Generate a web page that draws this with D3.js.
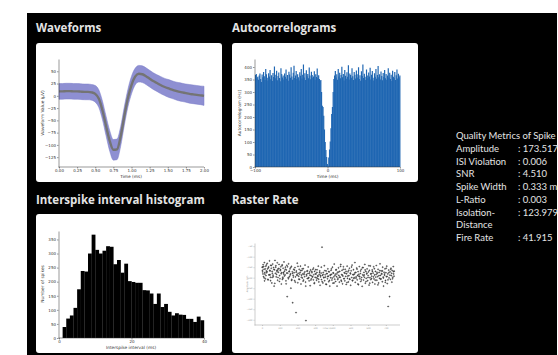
<!DOCTYPE html>
<html>
<head>
<meta charset="utf-8">
<script src="https://cdnjs.cloudflare.com/ajax/libs/d3/7.8.5/d3.min.js"></script>
<style>
  html, body { margin: 0; padding: 0; background: #fff; }
  svg { display: block; }
  .title { font-family: "Open Sans", sans-serif; font-weight: 700; font-size: 11.5px; fill: #e4e4e4; }
  .metric { font-family: Lato, sans-serif; font-size: 9.5px; fill: #e4e4e4; }
  .axis text { font-family: "DejaVu Sans", sans-serif; fill: #333; }
  .axis path, .axis line { stroke: #333; stroke-width: 0.5; }
  .lbl { font-family: "DejaVu Sans", sans-serif; fill: #333; }
</style>
</head>
<body>
<script>
// ---- data ----
const waveTime = [0, 0.05, 0.1, 0.15, 0.2, 0.25, 0.3, 0.35, 0.4, 0.45, 0.5, 0.55, 0.6, 0.65, 0.7, 0.75, 0.8, 0.85, 0.9, 0.95,
  1.0, 1.05, 1.1, 1.15, 1.2, 1.25, 1.3, 1.35, 1.4, 1.45, 1.5, 1.55, 1.6, 1.65, 1.7, 1.75, 1.8, 1.85, 1.9, 1.95, 2.0];
const waveMean = [9, 9, 9.5, 9.5, 9, 9, 8.5, 8, 8, 7, 4, -6, -30, -62, -92, -110, -109, -83, -42, -5,
  22, 39, 45, 44, 40, 35, 30, 26, 22, 18.5, 15.5, 13, 10.5, 8.5, 7, 5.5, 4, 3, 2, 1, 0];
const waveStd = [16, 16, 16, 16, 16, 16, 16, 16, 16, 16, 17, 18, 19, 20, 21, 21, 21, 20, 19, 18,
  18, 17, 17, 17, 17, 17, 17, 17, 17.5, 17.5, 18, 18, 18, 18.5, 18.5, 18.5, 19, 19, 19, 19, 19.5];
const waveXTicks = [0, 0.25, 0.5, 0.75, 1, 1.25, 1.5, 1.75, 2];
const waveYTicks = [50, 25, 0, -25, -50, -75, -100, -125];

// autocorrelogram: 1 ms bins from -100 to 100
const acgStart = -100;
const acgCounts = [
  368, 372, 355, 361, 349, 366, 374, 352, 340, 370, 359, 380, 363, 348, 392, 371, 357, 346, 375, 362,
  388, 351, 367, 344, 376, 360, 402, 355, 369, 385, 347, 364, 378, 356, 343, 395, 372, 358, 366, 350,
  374, 361, 390, 353, 368, 345, 381, 370, 357, 399, 362, 349, 377, 405, 356, 366, 384, 352, 371, 359,
  346, 379, 365, 392, 354, 369, 410, 358, 375, 348, 387, 363, 372, 355, 398, 366, 351, 381, 368, 357,
  362, 383, 349, 371, 360, 394, 356, 367, 352, 345, 348, 300, 245, 240, 205, 150, 100, 68, 40, 12,
  5, 38, 70, 102, 155, 212, 240, 300, 352, 366, 384, 358, 371, 349, 392, 362, 377, 355, 368, 401,
  359, 372, 346, 388, 365, 353, 379, 361, 407, 350, 374, 368, 357, 395, 363, 348, 380, 369, 354, 386,
  371, 358, 399, 352, 367, 345, 383, 364, 410, 356, 373, 361, 348, 390, 366, 355, 378, 362, 397, 350,
  369, 384, 357, 346, 375, 361, 392, 353, 368, 404, 359, 371, 350, 382, 364, 347, 376, 360, 388, 355,
  372, 349, 366, 395, 358, 377, 352, 369, 344, 385, 361, 356, 380, 348, 367, 390, 354, 373, 359, 366];
const acgXTicks = [-100, 0, 100];
const acgYTicks = [0, 50, 100, 150, 200, 250, 300, 350, 400];

// ISI histogram: 1 ms bins from 1 to 40
const isiStart = 1;
const isiCounts = [39, 69, 80, 107, 173, 238, 236, 300, 367, 313, 300, 310, 326, 324, 262, 277, 232, 264, 202, 199,
  196, 196, 170, 169, 158, 121, 158, 110, 121, 93, 80, 88, 83, 82, 68, 68, 57, 76, 63];
const isiXTicks = [0, 20, 40];
const isiYTicks = [0, 50, 100, 150, 200, 250, 300, 350];

// raster: spike time (s) and amplitude (uV)
const rasterTime = [
  1, 3, 6, 8, 11, 13, 16, 19, 21, 24, 26, 29, 31, 34, 37, 39, 42, 44, 47, 49,
  52, 55, 57, 60, 62, 65, 68, 70, 73, 75, 78, 80, 83, 86, 88, 91, 93, 96, 99, 101,
  104, 106, 109, 111, 114, 117, 119, 122, 124, 127, 130, 132, 135, 137, 140, 142, 145, 148, 150, 153,
  155, 158, 161, 163, 166, 168, 171, 173, 176, 179, 181, 184, 186, 189, 192, 194, 197, 199, 202, 204,
  207, 210, 212, 215, 217, 220, 223, 225, 228, 230, 233, 235, 238, 241, 243, 246, 248, 251, 254, 256,
  259, 261, 264, 266, 269, 272, 274, 277, 279, 282, 284, 287, 290, 292, 295, 297, 300, 303, 305, 308,
  310, 313, 315, 318, 321, 323, 326, 328, 331, 334, 336, 339, 341, 344, 346, 349, 352, 354, 357, 359,
  362, 364, 367, 370, 372, 375, 377, 380, 383, 385, 388, 390, 393, 395, 398, 401, 403, 406, 408, 411,
  414, 416, 419, 421, 424, 426, 429, 432, 434, 437, 439, 442, 445, 447, 450, 452, 455, 457, 460, 463,
  465, 468, 470, 473, 476, 478, 481, 483, 486, 488, 491, 494, 496, 499, 501, 504, 507, 509, 512, 514,
  517, 519, 522, 525, 527, 530, 532, 535, 538, 540, 543, 545, 548, 550, 553, 556, 558, 561, 563, 566,
  569, 571, 574, 576, 579, 581, 584, 587, 589, 592, 594, 597, 600, 602, 605, 607, 610, 612, 615, 618,
  620, 623, 625, 628, 631, 633, 636, 638, 641, 643, 646, 649, 651, 654, 656, 659, 662, 664, 667, 669,
  672, 674, 677, 680, 682, 685, 687, 690, 693, 695, 698, 700, 703, 705, 708, 711, 713, 716, 718, 721,
  724, 726, 729, 731, 734, 736, 739, 742, 744, 747,
  2, 5, 9, 12, 15, 18, 22, 25, 28, 33, 36, 41, 45, 48, 53, 58, 63, 67, 72, 77,
  82, 85, 90, 95, 98, 103, 108, 113, 118, 121, 126, 131, 136, 139, 144, 149, 154, 159, 162, 167,
  172, 177, 183, 188, 193, 198, 203, 208, 213, 218, 222, 227, 232, 237, 242, 247, 252, 257, 262, 267,
  271, 276, 281, 286, 291, 296, 301, 306, 311, 316, 320, 325, 330, 335, 340, 345, 350, 355, 361, 366,
  371, 376, 381, 387, 392, 397, 402, 407, 412, 418, 423, 428, 433, 438, 444, 449, 454, 459, 464, 469,
  475, 480, 485, 490, 495, 500, 506, 511, 516, 521, 526, 531, 537, 542, 547, 552, 557, 562, 568, 573,
  578, 583, 588, 593, 599, 604, 609, 614, 619, 624, 630, 635, 640, 645, 650, 655, 661, 666, 671, 676,
  681, 686, 692, 697, 702, 707, 712, 717, 723, 728, 733, 738, 743, 746, 3, 14, 46, 57, 88, 115];
const rasterAmp = [
  -150, -172, -138, -195, -160, -128, -183, -205, -145, -168, -176, -132, -158, -210, -149, -187, -120, -165, -198, -141,
  -155, -225, -170, -135, -188, -152, -240, -162, -118, -179, -143, -196, -166, -129, -212, -158, -174, -137, -190, -205,
  -161, -148, -230, -176, -139, -198, -155, -182, -125, -169, -187, -150, -215, -163, -141, -290, -178, -200, -134, -171,
  -195, -158, -182, -250, -146, -208, -172, -319, -189, -160, -176, -214, -152, -196, -366, -168, -185, -131, -224, -179,
  -193, -160, -208, -175, -145, -230, -188, -166, -201, -182, -157, -211, -178, -195, -140, -221, -404, -185, -169, -204,
  -180, -149, -199, -215, -172, -238, -163, -190, -205, -176, -195, -160, -210, -186, -228, -170, -198, -162, -182, -212,
  -175, -203, -191, -145, -220, -184, -168, -236, -196, -178, -209, -55, -189, -225, -175, -200, -143, -214, -186, -197,
  -168, -232, -181, -205, -158, -193, -219, -172, -240, -188, -200, -165, -184, -211, -150, -226, -178, -196, -135, -207,
  -183, -218, -161, -195, -240, -174, -202, -153, -189, -221, -170, -198, -137, -212, -185, -165, -229, -192, -148, -205,
  -176, -215, -160, -194, -232, -181, -145, -203, -172, -220, -190, -155, -208, -178, -236, -167, -199, -140, -213, -185,
  -162, -204, -183, -128, -222, -175, -196, -154, -210, -189, -171, -233, -193, -147, -205, -180, -218, -160, -199, -241,
  -186, -152, -211, -175, -198, -137, -226, -170, -203, -182, -158, -214, -190, -172, -235, -165, -200, -144, -209, -181,
  -193, -163, -222, -178, -148, -206, -187, -230, -170, -197, -142, -212, -180, -195, -160, -225, -175, -203, -134, -189,
  -205, -168, -183, -219, -150, -197, -240, -174, -188, -158, -213, -176, -195, -145, -228, -182, -337, -164, -201, -290,
  -172, -208, -155, -190, -221, -166, -198, -147, -182, -169,
  -165, -182, -147, -201, -176, -158, -190, -139, -171, -208, -153, -186, -168, -214, -142, -179, -195, -161, -227, -150,
  -184, -172, -199, -156, -218, -166, -181, -143, -203, -175, -192, -160, -229, -178, -148, -205, -169, -187, -152, -213,
  -180, -197, -163, -221, -174, -189, -146, -207, -183, -166, -198, -158, -216, -185, -172, -240, -191, -167, -203, -179,
  -188, -211, -170, -196, -154, -224, -182, -200, -162, -193, -207, -175, -189, -150, -219, -184, -198, -166, -231, -180,
  -194, -171, -213, -186, -158, -202, -177, -225, -190, -164, -182, -209, -173, -197, -146, -217, -188, -160, -204, -179,
  -170, -223, -192, -165, -206, -181, -149, -214, -186, -199, -176, -202, -159, -230, -184, -195, -168, -210, -152, -191,
  -187, -163, -218, -178, -199, -143, -226, -182, -204, -170, -196, -157, -212, -185, -174, -234, -190, -166, -207, -180,
  -168, -201, -183, -222, -155, -194, -210, -176, -188, -160, -179, -205, -171, -193, -150, -215, -186, -199, -164, -208];
const rasterXTicks = [0, 100, 200, 300, 400, 500, 600, 700];
const rasterYTicks = [-50, -100, -150, -200, -250, -300, -350, -400];

const metricNames = ["Amplitude", "ISI Violation", "SNR", "Spike Width", "L-Ratio", "Isolation-", "Distance", "Fire Rate"];
const metricValues = [": 173.517 \u00b5V", ": 0.006", ": 4.510", ": 0.333 ms", ": 0.003", ": 123.979", "", ": 41.915"];

// ---- page ----
const svg = d3.select("body").append("svg").attr("width", 558).attr("height", 355);
svg.append("rect").attr("x", 27).attr("y", 13).attr("width", 530).attr("height", 342).attr("fill", "#000");

const cards = [
  { title: "Waveforms", x: 36, y: 43, ty: 32 },
  { title: "Autocorrelograms", x: 232, y: 43, ty: 32 },
  { title: "Interspike interval histogram", x: 36, y: 214, ty: 204 },
  { title: "Raster Rate", x: 232, y: 214, ty: 204 }
];
cards.forEach(c => {
  svg.append("text").attr("class", "title").attr("x", c.x).attr("y", c.ty).text(c.title);
  svg.append("rect").attr("x", c.x).attr("y", c.y).attr("width", 186).attr("height", 139)
    .attr("rx", 3).attr("fill", "#fff");
});

const fmt = d => String(d).replace("-", "\u2212");

function axes(x, y, xt, yt, xf, yf, fs, tl, color) {
  const gx = svg.append("g").attr("class", "axis")
    .attr("transform", `translate(0,${y.range()[0]})`)
    .call(d3.axisBottom(x).tickValues(xt).tickFormat(xf).tickSize(tl).tickSizeOuter(0).tickPadding(1));
  const gy = svg.append("g").attr("class", "axis")
    .attr("transform", `translate(${x.range()[0] - 0.5},0)`)
    .call(d3.axisLeft(y).tickValues(yt).tickFormat(yf).tickSize(tl).tickSizeOuter(0).tickPadding(1));
  gx.select(".domain").attr("d", `M${x.range()[0] - 0.5},0H${x.range()[1]}`);
  [gx, gy].forEach(g => {
    g.selectAll("text").attr("font-size", fs);
    if (color) {
      g.selectAll("text").style("fill", color);
      g.selectAll("path, line").style("stroke", color);
    }
  });
}

function label(x, y, text, fs, rot, color) {
  svg.append("text").attr("class", "lbl").attr("font-size", fs).attr("text-anchor", "middle")
    .attr("transform", `translate(${x},${y})${rot ? " rotate(-90)" : ""}`)
    .style("fill", color || null).text(text);
}

// Waveforms
{
  const x = d3.scaleLinear().domain([0, 2]).range([59, 204]);
  const y = d3.scaleLinear().domain([-145, 75]).range([167, 59]);
  const pts = waveTime.map((t, i) => ({ t, m: waveMean[i], s: waveStd[i] }));
  svg.append("path").datum(pts)
    .attr("d", d3.area().x(d => x(d.t)).y0(d => y(d.m - d.s)).y1(d => y(d.m + d.s)).curve(d3.curveMonotoneX))
    .attr("fill", "#8e8fd2").attr("stroke", "#7a7cc9").attr("stroke-width", 0.5);
  svg.append("path").datum(pts)
    .attr("d", d3.line().x(d => x(d.t)).y(d => y(d.m)).curve(d3.curveMonotoneX))
    .attr("fill", "none").attr("stroke", "#747474").attr("stroke-width", 2.4);
  axes(x, y, waveXTicks, waveYTicks, d3.format(".2f"), fmt, 4, 1.5);
  label(131, 177.5, "Time (ms)", 4.3);
  label(43.5, 113, "Waveform Value (\u00b5V)", 4.3, true);
}

// Autocorrelograms
{
  const x = d3.scaleLinear().domain([-100, 100]).range([255, 400]);
  const y = d3.scaleLinear().domain([0, 432]).range([167, 59]);
  svg.append("g").selectAll("rect").data(acgCounts).join("rect")
    .attr("x", (d, i) => x(acgStart + i))
    .attr("width", (d, i) => x(acgStart + i + 1) - x(acgStart + i) + 0.45)
    .attr("y", d => y(d)).attr("height", d => y(0) - y(d))
    .attr("fill", "#1f66b2");
  axes(x, y, acgXTicks, acgYTicks, fmt, fmt, 4, 1.5);
  label(327.5, 177.5, "Time (ms)", 4.3);
  label(240.5, 113, "Autocorrelogram (Hz)", 4.3, true);
}

// ISI histogram
{
  const x = d3.scaleLinear().domain([0, 40]).range([59, 204]);
  const y = d3.scaleLinear().domain([0, 380]).range([338, 231]);
  svg.append("g").selectAll("rect").data(isiCounts).join("rect")
    .attr("x", (d, i) => x(isiStart + i))
    .attr("width", (d, i) => x(isiStart + i + 1) - x(isiStart + i) + 0.2)
    .attr("y", d => y(d)).attr("height", d => y(0) - y(d))
    .attr("fill", "#000");
  axes(x, y, isiXTicks, isiYTicks, fmt, fmt, 4, 1.5);
  label(131, 348.5, "Interspike interval (ms)", 4.3);
  label(43.5, 284, "Number of spikes", 4.3, true);
}

// Raster Rate
{
  const x = d3.scaleLinear().domain([-40, 780]).range([255, 400]);
  const y = d3.scaleLinear().domain([-425, -35]).range([325, 243]);
  axes(x, y, rasterXTicks, rasterYTicks, fmt, fmt, 2.2, 1, "#999");
  svg.append("g").selectAll("circle").data(rasterTime).join("circle")
    .attr("cx", d => x(d)).attr("cy", (d, i) => y(rasterAmp[i])).attr("r", 0.6)
    .attr("fill", "#666").attr("stroke", "#111").attr("stroke-width", 0.35);
  label(327, 329, "Time (s)", 2.2, false, "#999");
  label(248, 284, "Amplitude (\u00b5V)", 2.2, true, "#999");
}

// Quality metrics
svg.append("text").attr("class", "metric").attr("x", 456).attr("y", 139).text("Quality Metrics of Spike Sorting");
metricNames.forEach((n, i) => {
  const yy = 139 + (i + 1) * 12.75;
  svg.append("text").attr("class", "metric").attr("x", 456).attr("y", yy).text(n);
  svg.append("text").attr("class", "metric").attr("x", 518).attr("y", yy).text(metricValues[i]);
});
</script>
</body>
</html>
